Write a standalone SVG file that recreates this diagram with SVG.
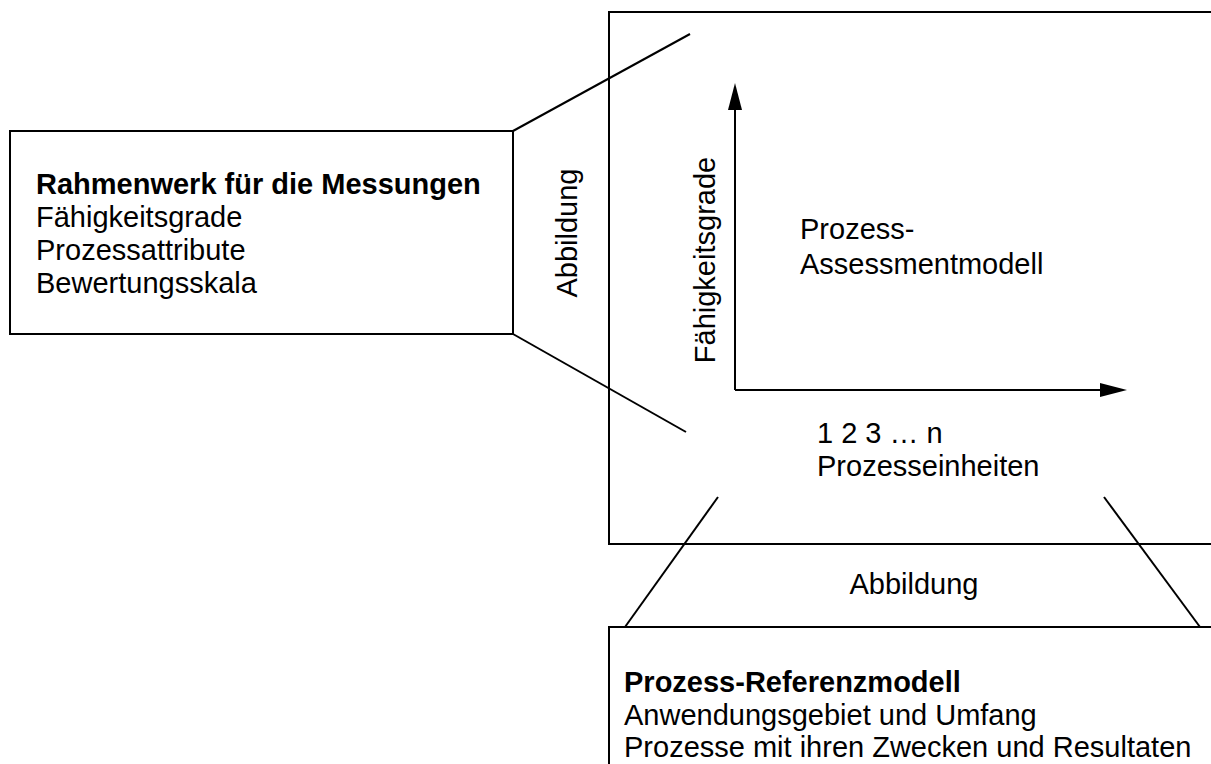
<svg xmlns="http://www.w3.org/2000/svg" width="1211" height="764" viewBox="0 0 1211 764">
<style>
.box{fill:#fff;stroke:#000;stroke-width:2}
.ln{stroke:#000;stroke-width:2;fill:none}
text{font-family:"Liberation Sans",Arial,sans-serif;font-size:29px;fill:#000}
.b{font-weight:bold}
</style>
<rect width="1211" height="764" fill="#fff"/>
<g id="assessment">
<rect class="box" x="609" y="12" width="620" height="532"/>
<text x="800" y="239">Prozess-</text>
<text x="800" y="274">Assessmentmodell</text>
<text x="817" y="443">1 2 3 … n</text>
<text x="817" y="476">Prozesseinheiten</text>
<text transform="translate(715,260) rotate(-90)" text-anchor="middle">Fähigkeitsgrade</text>
</g>
<g id="framework">
<rect class="box" x="10" y="131" width="503" height="203"/>
<text class="b" x="36" y="194">Rahmenwerk für die Messungen</text>
<text x="36" y="227">Fähigkeitsgrade</text>
<text x="36" y="260">Prozessattribute</text>
<text x="36" y="293">Bewertungsskala</text>
</g>
<g id="reference">
<rect class="box" x="609" y="627" width="620" height="150"/>
<text class="b" x="624" y="692">Prozess-Referenzmodell</text>
<text x="624" y="725">Anwendungsgebiet und Umfang</text>
<text x="624" y="757">Prozesse mit ihren Zwecken und Resultaten</text>
</g>
<g id="connectors">
<line class="ln" x1="513" y1="131" x2="690" y2="34"/>
<line class="ln" x1="513" y1="334" x2="686" y2="432"/>
<line class="ln" x1="718" y1="497" x2="625" y2="627"/>
<line class="ln" x1="1104" y1="497" x2="1200" y2="627"/>
<path class="ln" d="M735,390 V100"/>
<path class="ln" d="M735,390 H1110"/>
<path d="M735,83 L728,110 L742,110 Z" fill="#000"/>
<path d="M1127,390 L1100,383 L1100,397 Z" fill="#000"/>
<text transform="translate(577,233) rotate(-90)" text-anchor="middle">Abbildung</text>
<text x="914" y="594" text-anchor="middle">Abbildung</text>
</g>
</svg>
